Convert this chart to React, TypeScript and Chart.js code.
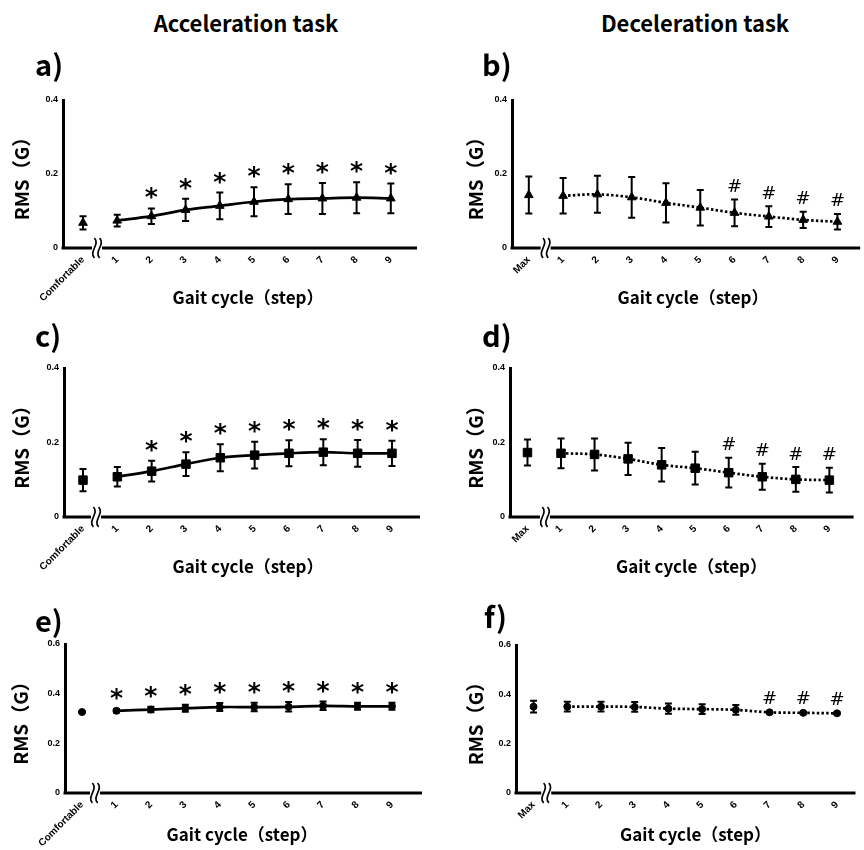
import React, { useEffect, useRef } from 'react';
import { Chart, registerables } from 'chart.js';

Chart.register(...registerables);

// ---------- data ----------
const accelCategories = ['Comfortable', '1', '2', '3', '4', '5', '6', '7', '8', '9'];
const decelCategories = ['Max', '1', '2', '3', '4', '5', '6', '7', '8', '9'];
const yTicksSmall = [0, 0.2, 0.4];
const yTicksLarge = [0, 0.2, 0.4, 0.6];
const xAxisTitle = 'Gait cycle（step）';
const yAxisTitle = 'RMS（G）';

// a) acceleration, triangles
const aMean = [0.068, 0.074, 0.086, 0.103, 0.114, 0.125, 0.132, 0.134, 0.136, 0.134];
const aSd = [0.018, 0.016, 0.021, 0.030, 0.036, 0.039, 0.040, 0.042, 0.042, 0.040];
const aMarks = ['', '', '*', '*', '*', '*', '*', '*', '*', '*'];
// b) deceleration, triangles
const bMean = [0.143, 0.141, 0.145, 0.137, 0.122, 0.109, 0.095, 0.085, 0.076, 0.071];
const bSd = [0.050, 0.048, 0.050, 0.055, 0.053, 0.048, 0.036, 0.028, 0.022, 0.021];
const bMarks = ['', '', '', '', '', '', '#', '#', '#', '#'];
// c) acceleration, squares
const cMean = [0.099, 0.108, 0.123, 0.142, 0.159, 0.166, 0.171, 0.174, 0.171, 0.171];
const cSd = [0.030, 0.026, 0.028, 0.032, 0.036, 0.036, 0.035, 0.035, 0.036, 0.034];
const cMarks = ['', '', '*', '*', '*', '*', '*', '*', '*', '*'];
// d) deceleration, squares
const dMean = [0.173, 0.171, 0.168, 0.156, 0.140, 0.131, 0.119, 0.108, 0.101, 0.099];
const dSd = [0.035, 0.040, 0.043, 0.043, 0.045, 0.044, 0.040, 0.035, 0.033, 0.033];
const dMarks = ['', '', '', '', '', '', '#', '#', '#', '#'];
// e) acceleration, circles
const eMean = [0.326, 0.331, 0.336, 0.341, 0.346, 0.346, 0.347, 0.351, 0.349, 0.349];
const eSd = [0.004, 0.007, 0.011, 0.014, 0.016, 0.017, 0.019, 0.017, 0.014, 0.014];
const eMarks = ['', '*', '*', '*', '*', '*', '*', '*', '*', '*'];
// f) deceleration, circles
const fMean = [0.350, 0.350, 0.350, 0.349, 0.342, 0.340, 0.337, 0.327, 0.325, 0.323];
const fSd = [0.024, 0.020, 0.020, 0.020, 0.021, 0.020, 0.020, 0.005, 0.004, 0.004];
const fMarks = ['', '', '', '', '', '', '', '#', '#', '#'];

// ---------- layout ----------
type Panel = {
  categories: string[];
  mean: number[];
  sd: number[];
  marks: string[];
  yTicks: number[];
  pointStyle: 'triangle' | 'rect' | 'circle';
  radius: number;
  dotted: boolean;
  cl: number; ct: number; cw: number; ch: number;
  plotL: number; plotT: number; plotB: number;
  firstPx: number; stepPx: number; axisEndPx: number; breakPx: number;
  titleCx: number; titleGap: number; yTitleCx: number;
};

const FONT = '"Noto Sans CJK JP", "Noto Sans", sans-serif';

const panels: Panel[] = [
  { categories: accelCategories, mean: aMean, sd: aSd, marks: aMarks, yTicks: yTicksSmall, pointStyle: 'triangle', radius: 5, dotted: false,
    cl: 0, ct: 80, cw: 440, ch: 232, plotL: 63, plotT: 100, plotB: 248, firstPx: 83, stepPx: 34.2, axisEndPx: 417, breakPx: 97, titleCx: 248, titleGap: 50, yTitleCx: 22 },
  { categories: decelCategories, mean: bMean, sd: bSd, marks: bMarks, yTicks: yTicksSmall, pointStyle: 'triangle', radius: 5, dotted: true,
    cl: 440, ct: 80, cw: 440, ch: 232, plotL: 512, plotT: 100, plotB: 248, firstPx: 529, stepPx: 34.67, axisEndPx: 864, breakPx: 546, titleCx: 695, titleGap: 50, yTitleCx: 476 },
  { categories: accelCategories, mean: cMean, sd: cSd, marks: cMarks, yTicks: yTicksSmall, pointStyle: 'rect', radius: 6, dotted: false,
    cl: 0, ct: 345, cw: 440, ch: 240, plotL: 64, plotT: 368, plotB: 517, firstPx: 83, stepPx: 34.33, axisEndPx: 420, breakPx: 96, titleCx: 248, titleGap: 50, yTitleCx: 22 },
  { categories: decelCategories, mean: dMean, sd: dSd, marks: dMarks, yTicks: yTicksSmall, pointStyle: 'rect', radius: 6, dotted: true,
    cl: 440, ct: 345, cw: 440, ch: 240, plotL: 510, plotT: 368, plotB: 517, firstPx: 528, stepPx: 34.56, axisEndPx: 864, breakPx: 546, titleCx: 697, titleGap: 50, yTitleCx: 476 },
  { categories: accelCategories, mean: eMean, sd: eSd, marks: eMarks, yTicks: yTicksLarge, pointStyle: 'circle', radius: 3.5, dotted: false,
    cl: 0, ct: 624, cw: 440, ch: 240, plotL: 65, plotT: 644, plotB: 793, firstPx: 82, stepPx: 34.44, axisEndPx: 422, breakPx: 95, titleCx: 242, titleGap: 42, yTitleCx: 21 },
  { categories: decelCategories, mean: fMean, sd: fSd, marks: fMarks, yTicks: yTicksLarge, pointStyle: 'circle', radius: 3.5, dotted: true,
    cl: 440, ct: 624, cw: 440, ch: 240, plotL: 516, plotT: 645, plotB: 793, firstPx: 534, stepPx: 34.56, axisEndPx: 864, breakPx: 547, titleCx: 700, titleGap: 42, yTitleCx: 476 },
];

const panelLetters = [
  { text: 'a)', left: 35, cy: 63 },
  { text: 'b)', left: 482, cy: 63 },
  { text: 'c)', left: 35, cy: 334 },
  { text: 'd)', left: 482, cy: 334 },
  { text: 'e)', left: 35, cy: 619 },
  { text: 'f)', left: 484, cy: 615 },
];

const taskTitles = [
  { text: 'Acceleration task', cx: 246, cy: 22 },
  { text: 'Deceleration task', cx: 695, cy: 22 },
];

const X_TITLE_SIZE = 17;
const Y_TITLE_SIZE = 19;

function PanelChart({ p }: { p: Panel }) {
  const ref = useRef<HTMLCanvasElement | null>(null);

  useEffect(() => {
    if (!ref.current) return;
    const plotR = 2 * p.titleCx - p.plotL;
    const xMin = (p.plotL - p.firstPx) / p.stepPx;
    const xMax = (plotR - p.firstPx) / p.stepPx;
    const axisEndVal = (p.axisEndPx - p.firstPx) / p.stepPx;
    const breakVal = (p.breakPx - p.firstPx) / p.stepPx;
    const yMax = p.yTicks[p.yTicks.length - 1];

    const baseData = [{ x: 0, y: p.mean[0] }];
    const stepData = p.mean.slice(1).map((m, i) => ({ x: i + 1, y: m }));

    const decor = {
      id: 'decor',
      afterDatasetsDraw(chart: any) {
        const ctx = chart.ctx as CanvasRenderingContext2D;
        const xs = chart.scales.x;
        const ys = chart.scales.y;
        const y0 = ys.getPixelForValue(0);
        const left = chart.chartArea.left;
        const bx = xs.getPixelForValue(breakVal);
        const end = xs.getPixelForValue(axisEndVal);
        ctx.save();
        ctx.strokeStyle = '#000';
        ctx.fillStyle = '#000';
        // broken x axis
        ctx.lineWidth = 3;
        ctx.lineCap = 'butt';
        ctx.beginPath();
        ctx.moveTo(left - 1.5, y0);
        ctx.lineTo(bx - 5, y0);
        ctx.moveTo(bx + 5, y0);
        ctx.lineTo(end, y0);
        ctx.stroke();
        ctx.lineWidth = 1.7;
        for (const dx of [-2.6, 2.6]) {
          const cx = bx + dx;
          ctx.beginPath();
          ctx.moveTo(cx, y0 - 10);
          ctx.bezierCurveTo(cx + 6, y0 - 4, cx - 6, y0 + 4, cx, y0 + 10);
          ctx.stroke();
        }
        // error bars and significance marks
        ctx.lineWidth = 2;
        chart.data.datasets.forEach((ds: any, di: number) => {
          const meta = chart.getDatasetMeta(di);
          meta.data.forEach((el: any, j: number) => {
            const idx = ds.data[j].x as number;
            const m = p.mean[idx];
            const s = p.sd[idx];
            const px = el.x;
            const top = ys.getPixelForValue(m + s);
            const bot = ys.getPixelForValue(m - s);
            ctx.beginPath();
            ctx.moveTo(px, top);
            ctx.lineTo(px, bot);
            ctx.moveTo(px - 3.5, top);
            ctx.lineTo(px + 3.5, top);
            ctx.moveTo(px - 3.5, bot);
            ctx.lineTo(px + 3.5, bot);
            ctx.stroke();
            const mark = p.marks[idx];
            if (mark) {
              ctx.font = mark === '*' ? 'bold 25px "DejaVu Sans"' : '18px "DejaVu Sans"';
              ctx.textAlign = 'center';
              ctx.textBaseline = 'alphabetic';
              const mt = ctx.measureText(mark);
              const cy = top - (mark === '*' ? 15 : 14);
              const base = cy + (mt.actualBoundingBoxAscent - mt.actualBoundingBoxDescent) / 2;
              ctx.fillText(mark, px, base);
            }
          });
        });
        ctx.restore();
      },
    };

    const pointCommon = {
      pointStyle: p.pointStyle,
      pointRadius: p.radius,
      pointBackgroundColor: '#000',
      pointBorderColor: '#000',
      pointBorderWidth: 1,
    };

    const chart = new Chart(ref.current, {
      type: 'line',
      data: {
        datasets: [
          { data: baseData, showLine: false, borderColor: '#000', ...pointCommon } as any,
          {
            data: stepData,
            showLine: true,
            borderColor: '#000',
            borderWidth: 2.7,
            borderDash: p.dotted ? [2.5, 2.3] : [],
            borderCapStyle: 'butt',
            tension: 0.35,
            fill: false,
            ...pointCommon,
          } as any,
        ],
      },
      options: {
        animation: false,
        responsive: false,
        events: [],
        devicePixelRatio: 1,
        layout: {
          padding: { left: 0, top: p.plotT - p.ct, right: p.cl + p.cw - plotR, bottom: 0 },
        },
        plugins: { legend: { display: false }, tooltip: { enabled: false } },
        scales: {
          x: {
            type: 'linear',
            min: xMin,
            max: xMax,
            grid: { display: false, drawTicks: false },
            border: { display: false },
            afterBuildTicks: (scale: any) => {
              scale.ticks = p.categories.map((_, i) => ({ value: i }));
            },
            afterFit: (scale: any) => {
              scale.height = p.ct + p.ch - p.plotB;
            },
            ticks: {
              autoSkip: false,
              minRotation: 45,
              maxRotation: 45,
              padding: 6,
              color: '#000',
              font: { family: '"Liberation Sans", Arial, sans-serif', size: 10, weight: 'bold' },
              callback: (v: any) => p.categories[Math.round(Number(v))] ?? '',
            },
            title: {
              display: true,
              text: xAxisTitle,
              color: '#000',
              font: { family: FONT, size: X_TITLE_SIZE, weight: 'bold' },
              padding: { top: 0, bottom: p.ch - (p.plotB + p.titleGap - p.ct) - (X_TITLE_SIZE * 1.2) / 2 },
            },
          },
          y: {
            type: 'linear',
            min: 0,
            max: yMax,
            grid: { display: false, drawTicks: false },
            border: { display: true, width: 3, color: '#000' },
            afterBuildTicks: (scale: any) => {
              scale.ticks = p.yTicks.map((v) => ({ value: v }));
            },
            afterFit: (scale: any) => {
              scale.width = p.plotL - p.cl;
            },
            ticks: {
              padding: 5,
              color: '#000',
              font: { family: '"Liberation Sans", Arial, sans-serif', size: 9, weight: 'bold' },
              callback: (v: any) => (Number(v) === 0 ? '0' : Number(v).toFixed(1)),
            },
            title: {
              display: true,
              text: yAxisTitle,
              color: '#000',
              font: { family: FONT, size: Y_TITLE_SIZE, weight: 'bold' },
              padding: { top: p.yTitleCx - p.cl - (Y_TITLE_SIZE * 1.2) / 2, bottom: 0 },
            },
          },
        },
      } as any,
      plugins: [decor],
    });
    return () => chart.destroy();
  }, [p]);

  return (
    <canvas
      ref={ref}
      width={p.cw}
      height={p.ch}
      style={{ position: 'absolute', left: p.cl, top: p.ct, width: p.cw, height: p.ch, display: 'block' }}
    />
  );
}

export default function App() {
  return (
    <div
      style={{
        position: 'absolute',
        left: 0,
        top: 0,
        width: 864,
        height: 850,
        overflow: 'hidden',
        background: '#fff',
        fontFamily: FONT,
      }}
    >
      {panels.map((p, i) => (
        <PanelChart key={i} p={p} />
      ))}
      {taskTitles.map((t, i) => (
        <div
          key={'t' + i}
          style={{
            position: 'absolute',
            left: t.cx,
            top: t.cy,
            transform: 'translate(-50%, -50%)',
            fontSize: 22,
            fontWeight: 'bold',
            whiteSpace: 'nowrap',
            lineHeight: 1,
            color: '#000',
          }}
        >
          {t.text}
        </div>
      ))}
      {panelLetters.map((l, i) => (
        <div
          key={'l' + i}
          style={{
            position: 'absolute',
            left: l.left,
            top: l.cy,
            transform: 'translateY(-50%)',
            fontSize: 29,
            fontWeight: 'bold',
            whiteSpace: 'nowrap',
            lineHeight: 1,
            color: '#000',
          }}
        >
          {l.text}
        </div>
      ))}
    </div>
  );
}
